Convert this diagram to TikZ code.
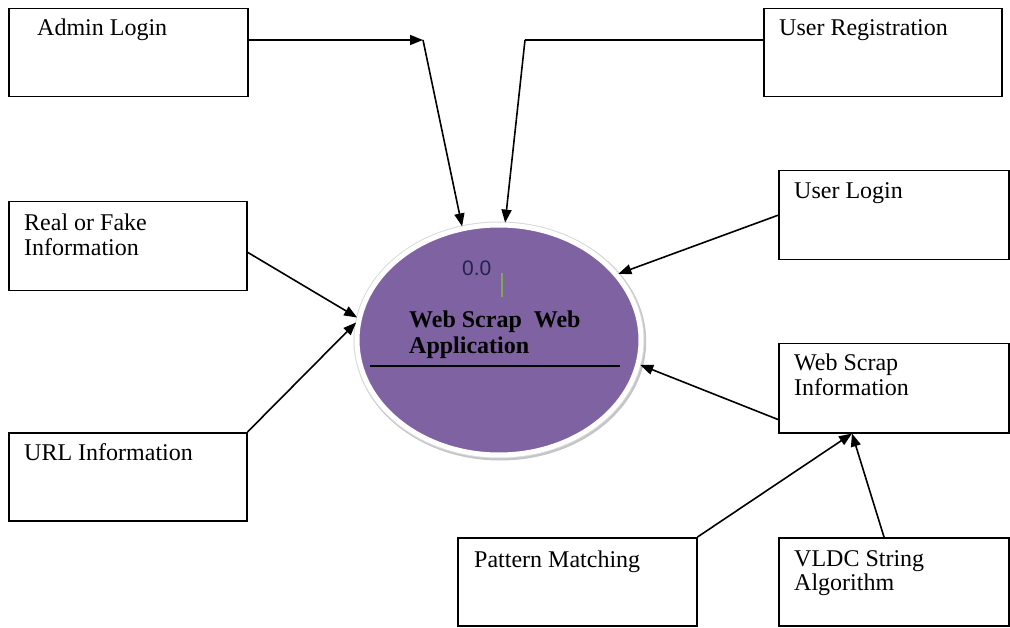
\documentclass[tikz,border=0pt]{standalone}
\usepackage{fontspec}
\setmainfont{Liberation Serif}
\newfontfamily\labelsans{Liberation Sans}
\usetikzlibrary{arrows.meta,calc,shapes.geometric}
\definecolor{procfill}{RGB}{127,98,161}
\definecolor{numcol}{RGB}{35,35,80}
\definecolor{tickgreen}{RGB}{128,168,88}
\definecolor{rimgray}{RGB}{170,170,178}
\begin{document}
\begin{tikzpicture}[x=1pt,y=-1pt,
  entity/.style={draw=black,line width=1.5pt,fill=white,inner sep=0pt,anchor=north west},
  etext/.style={anchor=base west,inner sep=0pt,align=left,font=\fontsize{24}{24.5}\selectfont},
  flow/.style={draw=black,line width=1.6pt,-{Triangle[length=13pt,width=10pt]}},
  plain/.style={draw=black,line width=1.6pt}]
\useasboundingbox (0,0) rectangle (1010,628);

% external entities
\node[entity,minimum width=239pt,minimum height=88pt] (admin) at (8,8) {};
\node[entity,minimum width=238pt,minimum height=88pt] (ureg) at (763,8) {};
\node[entity,minimum width=230pt,minimum height=89pt] (ulog) at (778,170) {};
\node[entity,minimum width=238pt,minimum height=89pt] (rf) at (8,201) {};
\node[entity,minimum width=238pt,minimum height=88pt] (url) at (8,432) {};
\node[entity,minimum width=230pt,minimum height=89pt] (ws) at (778,343) {};
\node[entity,minimum width=239pt,minimum height=88pt] (pm) at (457,537) {};
\node[entity,minimum width=230pt,minimum height=88pt] (vl) at (778,537) {};

\node[etext] (admin-t) at (37,36) {Admin Login};
\node[etext] (ureg-t) at (779,36) {User Registration};
\node[etext] (ulog-t) at (794,199) {User Login};
\node[etext,anchor=north west] (rf-t) at (24,214) {Real or Fake\\Information};
\node[etext] (url-t) at (24,460) {URL Information};
\node[etext,anchor=north west] (ws-t) at (794,354) {Web Scrap\\Information};
\node[etext] (pm-t) at (474,567) {Pattern Matching};
\node[etext,anchor=north west] (vl-t) at (794,550) {VLDC String\\Algorithm};

% central process: soft grey rim, white ring, purple body
\coordinate (pc) at (499,340);
\fill[rimgray!70] ($(pc)+(1.2,1.5)$) ellipse (146 and 119);
\fill[rimgray!45] (pc) ellipse (145.5 and 118.5);
\node[ellipse,draw=white,line width=5pt,fill=procfill,minimum width=284pt,minimum height=230pt,inner sep=0pt] (app) at (pc) {};
\node[anchor=base west,inner sep=0pt,text=numcol,font=\labelsans\fontsize{21}{22}\selectfont] (num) at (462,276) {0.0};
\draw[tickgreen,line width=2.6pt] (502,273) -- (502,297);
\node[anchor=north west,inner sep=0pt,align=left,text=black,font=\bfseries\fontsize{24}{26}\selectfont] (name) at (409,311) {Web Scrap\ \ Web\\Application};
\coordinate (ul-a) at (370,366);
\coordinate (ul-b) at (620,366);
\draw[black,line width=1.3pt] (ul-a) -- (ul-b);

% data flows
\coordinate (bendA) at (423,40);
\coordinate (bendR) at (525,40);
\draw[flow] (admin.east |- bendA) -- (bendA);
\draw[flow] (bendA) -- (app.108.7);
\draw[plain] (ureg.west |- bendR) -- (bendR);
\draw[flow] (bendR) -- (app.87.3);
\draw[flow] (ulog.west) -- (app.29.7);
\draw[flow] ([yshift=-6pt]rf.east) -- (app.171.5);
\draw[flow] (url.north east) -- (app.173.5);
\draw[flow] ($(ws.south west)+(0,-14)$) -- (app.-10.4);
\coordinate (wsin) at ($(ws.south west)+(74,0)$);
\draw[flow] (pm.north east) -- (wsin);
\draw[flow] ($(vl.north west)+(106,0)$) -- (wsin);
\end{tikzpicture}
\end{document}
